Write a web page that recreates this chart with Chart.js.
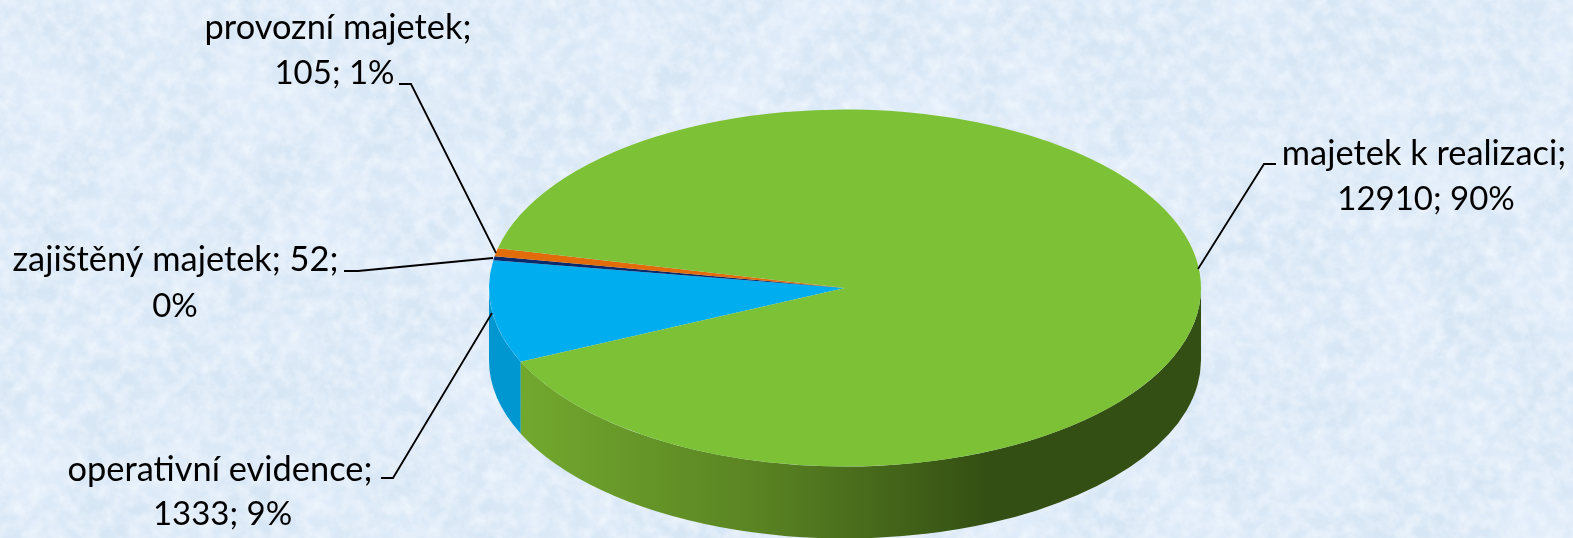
<!DOCTYPE html>
<html>
<head>
<meta charset="utf-8">
<title>Majetek</title>
<script src="https://cdn.jsdelivr.net/npm/chart.js@4"></script>
<style>
    html, body { margin: 0; padding: 0; width: 1573px; height: 538px; overflow: hidden; background: #d7e6f5; }
    #texture { position: absolute; left: 0; top: 0; }
    #box { position: absolute; left: 0; top: 0; width: 1573px; height: 538px; }
</style>
</head>
<body>
<svg id="texture" width="1573" height="538">
    <filter id="mottle" x="0" y="0" width="100%" height="100%">
        <feTurbulence type="fractalNoise" baseFrequency="0.07" numOctaves="4" seed="7"/>
        <feColorMatrix type="matrix" values="0 0 0 0 0.91  0 0 0 0 0.95  0 0 0 0 0.99  1.3 0 0 0 -0.42"/>
    </filter>
    <filter id="patches" x="0" y="0" width="100%" height="100%">
        <feTurbulence type="fractalNoise" baseFrequency="0.014" numOctaves="2" seed="3"/>
        <feColorMatrix type="matrix" values="0 0 0 0 0.76  0 0 0 0 0.85  0 0 0 0 0.96  1.8 0 0 0 -0.65"/>
    </filter>
    <rect width="1573" height="538" fill="#d7e6f5"/>
    <rect width="1573" height="538" filter="url(#patches)"/>
    <rect width="1573" height="538" filter="url(#mottle)"/>
</svg>
<div id="box"><canvas id="assetChart"></canvas></div>
<script>
/* ================= DATA ================= */

const categories = ["operativní evidence", "zajištěný majetek", "provozní majetek", "majetek k realizaci"];
const values = [1333, 52, 105, 12910];
const sliceColors = ["#00aeef", "#0b2a6b", "#e36c0a", "#7dc136"];

/* ================= LAYOUT ================= */

const centerX = 845;
const centerY = 288;
const radiusX = 356;
const squash = 178.5 / 356;
const depth = 72;
const nameFont = "34.4px Lato, Carlito, sans-serif";
const numberFont = "33px Lato, Carlito, sans-serif";

// text lines use {name}, {value}, {pct}; x = centre of line, y = baseline
const labelLayout = [
    { lines: [["{name};", 220, 480.5], ["{value}; {pct}%", 222.5, 524.5]], leader: [[381, 478], [393, 478], [492, 313]] },
    { lines: [["{name}; {value};", 175.5, 271], ["{pct}%", 175, 316.5]], leader: [[344, 271], [358, 271], [493, 258]] },
    { lines: [["{name};", 338, 39], ["{value}; {pct}%", 334.5, 83.5]], leader: [[399, 84], [411, 84], [496, 253]] },
    { lines: [["{name};", 1424, 164.5], ["{value}; {pct}%", 1426, 209.5]], leader: [[1276, 164], [1264, 164], [1198, 269]] }
];

const total = values.reduce((a, b) => a + b, 0);

/* ================= 3D LOOK ================= */

function wallStyle(ctx, index) {
    if (index === 0) return "#0097d0";
    if (index === 3) {
        const g = ctx.createLinearGradient(522, 0, 988, 0);
        g.addColorStop(0, "#72a82e");
        g.addColorStop(0.5, "#5a8423");
        g.addColorStop(1, "#344f13");
        return g;
    }
    return "#333333";
}

const tiltPlugin = {
    id: "tilt",
    beforeDatasetsDraw(chart) {
        const ctx = chart.ctx;
        const arcs = chart.getDatasetMeta(0).data;
        const full = Math.PI * 2;

        // side wall, only the part of each slice that faces the viewer
        ctx.save();
        arcs.forEach((arc, i) => {
            [0, full].forEach((turn) => {
                const from = Math.max(arc.startAngle, turn);
                const to = Math.min(arc.endAngle, turn + Math.PI);
                if (to <= from) return;
                const r = arc.outerRadius;
                ctx.beginPath();
                ctx.ellipse(centerX, centerY, r, r * squash, 0, from, to);
                ctx.ellipse(centerX, centerY + depth, r, r * squash, 0, to, from, true);
                ctx.closePath();
                ctx.fillStyle = wallStyle(ctx, i);
                ctx.fill();
            });
        });
        ctx.restore();

        // flatten the top face into an ellipse
        ctx.save();
        ctx.translate(centerX, centerY);
        ctx.scale(1, squash);
        ctx.translate(-arcs[0].x, -arcs[0].y);
    },
    afterDatasetsDraw(chart) {
        const ctx = chart.ctx;
        ctx.restore();

        labelLayout.forEach((item, i) => {
            ctx.beginPath();
            item.leader.forEach((p, k) => k ? ctx.lineTo(p[0], p[1]) : ctx.moveTo(p[0], p[1]));
            ctx.strokeStyle = "#000000";
            ctx.lineWidth = 1.8;
            ctx.stroke();

            ctx.fillStyle = "#000000";
            ctx.textAlign = "center";
            ctx.textBaseline = "alphabetic";
            item.lines.forEach((line) => {
                ctx.font = line[0].includes("{name}") ? nameFont : numberFont;
                const text = line[0]
                    .replace("{name}", categories[i])
                    .replace("{value}", values[i])
                    .replace("{pct}", Math.round(values[i] / total * 100));
                ctx.fillText(text, line[1], line[2]);
            });
        });
    }
};

/* ================= ASSET PIE ================= */

new Chart(document.getElementById("assetChart"), {

    type: "pie",

    data: {
        labels: categories,
        datasets: [{
                data: values,
                backgroundColor: sliceColors,
                borderWidth: 0,
                clip: false
            }]
    },

    plugins: [tiltPlugin],

    options: {
        responsive: true,
        maintainAspectRatio: false,
        animation: false,
        radius: radiusX,
        rotation: 245.6,
        events: [],

        plugins: {
            legend: {
                display: false
            },
            tooltip: {
                enabled: false
            }
        }
    }

});
</script>
</body>
</html>
